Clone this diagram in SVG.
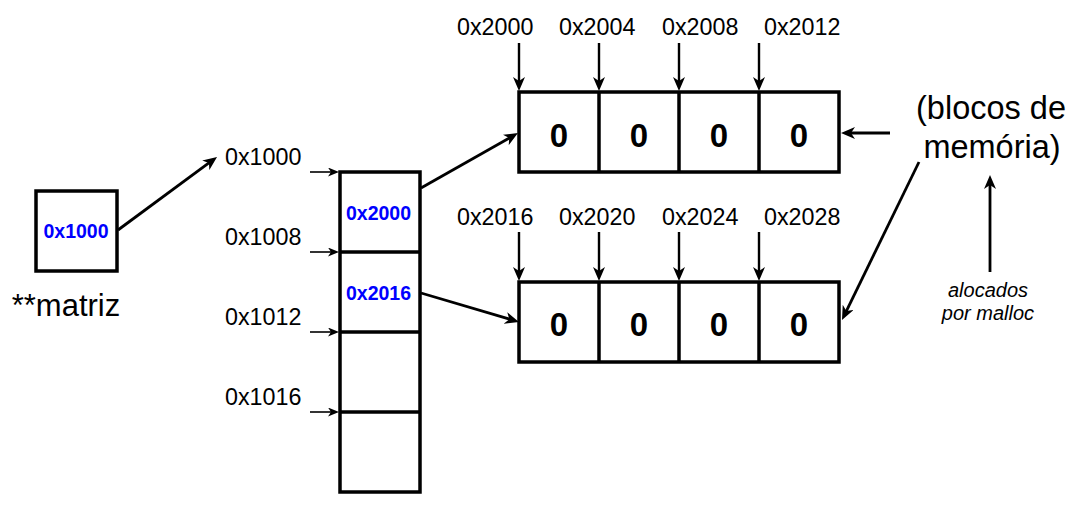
<svg xmlns="http://www.w3.org/2000/svg" width="1078" height="519" viewBox="0 0 1078 519">
  <style>
    .box { fill: #ffffff; stroke: #000000; stroke-width: 3.5; }
    .div { stroke: #000000; stroke-width: 3.5; fill: none; }
    .addr { font-family: "Liberation Sans", Arial, sans-serif; font-size: 23.3px; fill: #000000; }
    .ptr { font-family: "Liberation Sans", Arial, sans-serif; font-size: 19.5px; font-weight: bold; fill: #0000ff; text-anchor: middle; }
    .zero { font-family: "Liberation Sans", Arial, sans-serif; font-size: 33px; font-weight: bold; fill: #000000; text-anchor: middle; }
    .big { font-family: "Liberation Sans", Arial, sans-serif; font-size: 32.5px; fill: #000000; text-anchor: middle; }
    .name { font-family: "Liberation Sans", Arial, sans-serif; font-size: 31px; fill: #000000; text-anchor: middle; }
    .note { font-family: "Liberation Sans", Arial, sans-serif; font-size: 20px; font-style: italic; fill: #000000; text-anchor: middle; }
    .conn { stroke: #000000; stroke-width: 2.8; fill: none; marker-end: url(#arr); }
    .thin { stroke: #000000; stroke-width: 1.6; fill: none; marker-end: url(#sarr); }
    .vert { stroke: #000000; stroke-width: 2.4; fill: none; marker-end: url(#arr); }
  </style>
  <defs>
    <marker id="arr" viewBox="0 0 14 12" refX="6" refY="6" markerWidth="14" markerHeight="12" markerUnits="userSpaceOnUse" orient="auto">
      <path d="M0,0 L14,6 L0,12 L4,6 Z" fill="#000000"/>
    </marker>
    <marker id="sarr" viewBox="0 0 11 9" refX="5" refY="4.5" markerWidth="11" markerHeight="9" markerUnits="userSpaceOnUse" orient="auto">
      <path d="M0,0 L11,4.5 L0,9 L3,4.5 Z" fill="#000000"/>
    </marker>
  </defs>

  <g id="matriz">
    <rect class="box" x="36" y="191" width="81" height="80"/>
    <text class="ptr" x="76" y="238">0x1000</text>
    <text class="name" x="66" y="316">**matriz</text>
  </g>

  <g id="ponteiros">
    <rect class="box" x="340" y="172" width="80" height="320"/>
    <line class="div" x1="340" y1="252" x2="420" y2="252"/>
    <line class="div" x1="340" y1="332" x2="420" y2="332"/>
    <line class="div" x1="340" y1="412" x2="420" y2="412"/>
    <text class="ptr" x="378.5" y="220">0x2000</text>
    <text class="ptr" x="378.5" y="300">0x2016</text>
    <text class="addr" x="225" y="165">0x1000</text>
    <text class="addr" x="225" y="245">0x1008</text>
    <text class="addr" x="225" y="325">0x1012</text>
    <text class="addr" x="225" y="405">0x1016</text>
  </g>

  <g id="bloco1">
    <rect class="box" x="519" y="92" width="320" height="80"/>
    <line class="div" x1="599" y1="92" x2="599" y2="172"/>
    <line class="div" x1="679" y1="92" x2="679" y2="172"/>
    <line class="div" x1="759" y1="92" x2="759" y2="172"/>
    <text class="zero" x="559" y="146.5">0</text>
    <text class="zero" x="639" y="146.5">0</text>
    <text class="zero" x="719" y="146.5">0</text>
    <text class="zero" x="799" y="146.5">0</text>
    <text class="addr" x="457" y="35">0x2000</text>
    <text class="addr" x="559" y="35">0x2004</text>
    <text class="addr" x="662" y="35">0x2008</text>
    <text class="addr" x="764" y="35">0x2012</text>
  </g>

  <g id="bloco2">
    <rect class="box" x="519" y="282" width="320" height="80"/>
    <line class="div" x1="599" y1="282" x2="599" y2="362"/>
    <line class="div" x1="679" y1="282" x2="679" y2="362"/>
    <line class="div" x1="759" y1="282" x2="759" y2="362"/>
    <text class="zero" x="559" y="336">0</text>
    <text class="zero" x="639" y="336">0</text>
    <text class="zero" x="719" y="336">0</text>
    <text class="zero" x="799" y="336">0</text>
    <text class="addr" x="457" y="225">0x2016</text>
    <text class="addr" x="559" y="225">0x2020</text>
    <text class="addr" x="662" y="225">0x2024</text>
    <text class="addr" x="764" y="225">0x2028</text>
  </g>

  <g id="legenda">
    <text class="big" x="991" y="119">(blocos de</text>
    <text class="big" x="992" y="158">memória)</text>
    <text class="note" x="988" y="297">alocados</text>
    <text class="note" x="988" y="320">por malloc</text>
  </g>

  <g id="connectors">
    <line class="conn" x1="118" y1="230" x2="210.6" y2="161.7"/>
    <line class="conn" x1="421" y1="188" x2="511" y2="137"/>
    <line class="conn" x1="421" y1="293" x2="511.3" y2="319.7"/>
    <line class="conn" x1="890" y1="133" x2="849" y2="133"/>
    <line class="conn" x1="919" y1="162" x2="845.5" y2="312.8"/>
    <line class="conn" x1="990" y1="272" x2="990" y2="183"/>

    <line class="thin" x1="310" y1="172" x2="333" y2="172"/>
    <line class="thin" x1="310" y1="252" x2="333" y2="252"/>
    <line class="thin" x1="310" y1="332" x2="333" y2="332"/>
    <line class="thin" x1="310" y1="412" x2="333" y2="412"/>

    <line class="vert" x1="519" y1="43" x2="519" y2="83"/>
    <line class="vert" x1="599" y1="43" x2="599" y2="83"/>
    <line class="vert" x1="679" y1="43" x2="679" y2="83"/>
    <line class="vert" x1="759" y1="43" x2="759" y2="83"/>
    <line class="vert" x1="519" y1="232" x2="519" y2="273"/>
    <line class="vert" x1="599" y1="232" x2="599" y2="273"/>
    <line class="vert" x1="679" y1="232" x2="679" y2="273"/>
    <line class="vert" x1="759" y1="232" x2="759" y2="273"/>
  </g>
</svg>
